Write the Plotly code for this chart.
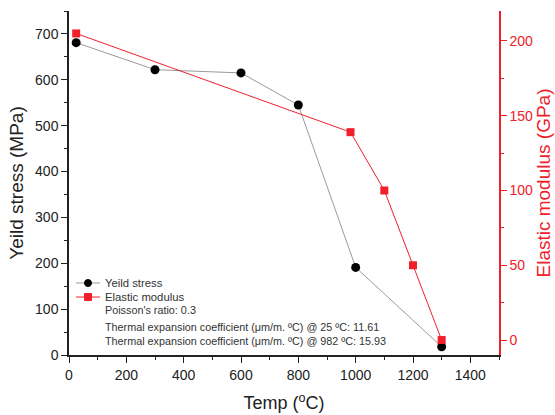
import plotly.graph_objects as go

temp_ys = [25, 300, 600, 800, 1000, 1300]
yield_stress = [681, 622, 615, 545, 191, 18]
temp_em = [25, 982, 1100, 1200, 1300]
elastic_modulus = [205, 139, 100, 50, 0]
series_names = ["Yeild stress", "Elastic modulus"]
notes = [
    "Poisson's ratio: 0.3",
    "Thermal expansion coefficient (μm/m. ºC) @ 25 ºC: 11.61",
    "Thermal expansion coefficient (μm/m. ºC) @ 982 ºC: 15.93",
]

RED = "#f0202a"
GRAY = "#9a9a9a"
FONT = "Liberation Sans, Arial, sans-serif"

fig = go.Figure()
fig.add_trace(go.Scatter(
    x=temp_ys, y=yield_stress, name=series_names[0], mode="lines+markers",
    line=dict(color=GRAY, width=1),
    marker=dict(color="black", size=9, symbol="circle"),
    xaxis="x", yaxis="y", showlegend=False))
fig.add_trace(go.Scatter(
    x=temp_em, y=elastic_modulus, name=series_names[1], mode="lines+markers",
    line=dict(color=RED, width=1),
    marker=dict(color=RED, size=8, symbol="square"),
    xaxis="x", yaxis="y2", showlegend=False))

# Manual legend (plot area: x 69..499 px, y 11..355 px)
W, H = 430.0, 344.0
def px(xpix):
    return (xpix - 69) / W
def py(ypix):
    return (355 - ypix) / H

legend_rows = [283, 297]
legend_cols = [(GRAY, "black", "circle"), (RED, RED, "rect")]
shapes = []
annotations = []
for row_y, (lc, mc, kind), name in zip(legend_rows, legend_cols, series_names):
    shapes.append(dict(type="line", xref="paper", yref="paper",
                       x0=px(76), x1=px(100), y0=py(row_y), y1=py(row_y),
                       line=dict(color=lc, width=1)))
    shapes.append(dict(type="circle" if kind == "circle" else "rect",
                       xref="paper", yref="paper",
                       xsizemode="pixel", ysizemode="pixel",
                       xanchor=px(88), yanchor=py(row_y),
                       x0=-3.5, x1=3.5, y0=-3.5, y1=3.5,
                       fillcolor=mc, line=dict(color=mc, width=1)))
    annotations.append(dict(x=px(103), y=py(row_y), xref="paper", yref="paper",
                            text=name, showarrow=False, xanchor="left", yanchor="middle",
                            font=dict(family=FONT, size=11.3, color="#333")))
for row_y, n in zip([310, 327, 341], notes):
    annotations.append(dict(x=px(103), y=py(row_y), xref="paper", yref="paper",
                            text=n, showarrow=False, xanchor="left", yanchor="middle",
                            font=dict(family=FONT, size=10.8, color="#333")))

tickfont = dict(family=FONT, size=14, color="#222")
fig.update_layout(
    width=555, height=415,
    margin=dict(l=69, r=56, t=11, b=60),
    paper_bgcolor="white", plot_bgcolor="white",
    font=dict(family=FONT, color="#222"),
    showlegend=False,
    shapes=shapes, annotations=annotations,
    xaxis=dict(range=[0, 1500], showgrid=False, zeroline=False, automargin=False,
               showline=True, linecolor="#222", linewidth=1.5,
               ticks="outside", ticklen=6, tickcolor="#222", dtick=200, tick0=0,
               minor=dict(ticks="outside", ticklen=3, dtick=100, tickcolor="#222"),
               tickfont=tickfont,
               title=dict(text="Temp (<sup>o</sup>C)", font=dict(family=FONT, size=18, color="#222"),
                          standoff=15)),
    xaxis2=dict(range=[0, 1500], overlaying="x", side="top", anchor="y", automargin=False,
                showgrid=False, zeroline=False, showticklabels=False,
                showline=True, linecolor="#222", linewidth=1.5,
                ticks="inside", ticklen=5, tickcolor="#222", dtick=100, tick0=0),
    yaxis=dict(range=[0, 750], showgrid=False, zeroline=False, automargin=False,
               showline=True, linecolor="#222", linewidth=1.5,
               ticks="outside", ticklen=6, tickcolor="#222", dtick=100, tick0=0,
               minor=dict(ticks="outside", ticklen=3, dtick=50, tickcolor="#222"),
               tickfont=tickfont,
               title=dict(text="Yeild stress (MPa)", font=dict(family=FONT, size=19, color="#222"),
                          standoff=6)),
    yaxis2=dict(range=[-10, 220], overlaying="y", side="right", anchor="x", automargin=False,
                showgrid=False, zeroline=False,
                showline=True, linecolor=RED, linewidth=1.5,
                ticks="outside", ticklen=6, tickcolor=RED, dtick=50, tick0=0,
                minor=dict(ticks="outside", ticklen=3, dtick=25, tickcolor=RED),
                tickfont=dict(family=FONT, size=14, color=RED),
                title=dict(text="Elastic modulus (GPa)", font=dict(family=FONT, size=19, color=RED),
                           standoff=4)),
)

fig.write_html("out.html", config={"displayModeBar": False},
               post_script="document.body.style.margin='0';document.body.style.padding='0';")
